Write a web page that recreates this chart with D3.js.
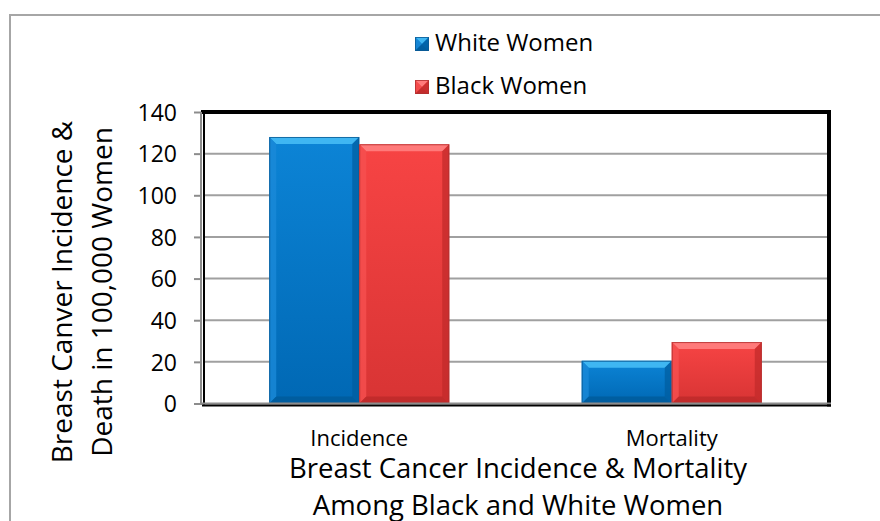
<!DOCTYPE html>
<html>
<head>
<meta charset="utf-8">
<script src="https://cdn.jsdelivr.net/npm/d3@7"></script>
<style>
  html, body { margin: 0; padding: 0; background: #fff; }
  svg { display: block; font-family: "Open Sans", Lato, sans-serif; }
</style>
</head>
<body>
<svg id="chart" width="880" height="521"></svg>
<script>
const categories = ["Incidence", "Mortality"];
const seriesNames = ["White Women", "Black Women"];
const whiteWomen = [128, 20.5];
const blackWomen = [124.5, 29.5];
const yTicks = [0, 20, 40, 60, 80, 100, 120, 140];
const yTitleLines = ["Breast Canver Incidence &", "Death in 100,000 Women"];
const xTitleLines = ["Breast Cancer Incidence & Mortality", "Among Black and White Women"];

const seriesValues = [whiteWomen, blackWomen];
const palette = [
  { main0: "#0c84d6", main1: "#0068b4", top: "#3fb6f2", left: "#1a8ad8", right: "#005c9e", bottom: "#005896", edge: "#0a5a94" },
  { main0: "#f74444", main1: "#d83434", top: "#ff7a7a", left: "#f65050", right: "#c02a2a", bottom: "#b82828", edge: "#b03030" }
];
const FONT = "'Open Sans', Lato, sans-serif";

const svg = d3.select("#chart");
const W = 880, H = 521;
const plot = { left: 203, right: 828, top: 112, bottom: 403.5 };

// outer chart border
svg.append("rect").attr("x", 10).attr("y", 15).attr("width", W + 10).attr("height", H + 10)
  .attr("fill", "#fff").attr("stroke", "#a6a6a6").attr("stroke-width", 2);

const y = d3.scaleLinear().domain([0, 140]).range([plot.bottom, plot.top]);
const x0 = d3.scaleBand().domain(categories).range([plot.left, plot.right]).paddingInner(0).paddingOuter(0);
const x1 = d3.scaleBand().domain(seriesNames).range([0, x0.bandwidth()]).paddingInner(0).paddingOuter(0.736);

// defs gradients
const defs = svg.append("defs");
palette.forEach((p, i) => {
  const g = defs.append("linearGradient").attr("id", "g" + i).attr("x1", 0).attr("y1", 0).attr("x2", 0).attr("y2", 1);
  g.append("stop").attr("offset", "0%").attr("stop-color", p.main0);
  g.append("stop").attr("offset", "100%").attr("stop-color", p.main1);
});

// gridlines
svg.append("g").selectAll("line").data(yTicks.filter(t => t > 0 && t < 140)).join("line")
  .attr("x1", plot.left).attr("x2", plot.right)
  .attr("y1", d => y(d)).attr("y2", d => y(d))
  .attr("stroke", "#a0a0a0").attr("stroke-width", 2);

// y axis ticks & labels
const yAxis = d3.axisLeft(y).tickValues(yTicks).tickSize(8).tickPadding(17).tickFormat(d3.format("d"));
const ya = svg.append("g").attr("transform", `translate(${plot.left - 1},0)`).call(yAxis);
ya.select(".domain").remove();
ya.selectAll(".tick line").attr("stroke", "#8c8c8c").attr("stroke-width", 2);
ya.selectAll(".tick text").attr("font-size", 23).attr("fill", "#000").attr("font-family", FONT).attr("dy", "0.36em");

function bevelBar(g, bx, by, bw, bh, p, gi) {
  const b = Math.min(7, bh / 2, bw / 2);
  g.append("rect").attr("x", bx).attr("y", by).attr("width", bw).attr("height", bh).attr("fill", `url(#g${gi})`);
  const poly = (pts, fill, op) => g.append("polygon").attr("points", pts.map(q => q.join(",")).join(" ")).attr("fill", fill).attr("opacity", op);
  poly([[bx, by], [bx + bw, by], [bx + bw - b, by + b], [bx + b, by + b]], p.top, 1);
  poly([[bx, by], [bx + b, by + b], [bx + b, by + bh - b], [bx, by + bh]], p.left, 0.8);
  poly([[bx + bw, by], [bx + bw - b, by + b], [bx + bw - b, by + bh - b], [bx + bw, by + bh]], p.right, 0.7);
  poly([[bx, by + bh], [bx + b, by + bh - b], [bx + bw - b, by + bh - b], [bx + bw, by + bh]], p.bottom, 0.7);
  g.append("rect").attr("x", bx + 0.5).attr("y", by + 0.5).attr("width", bw - 1).attr("height", bh - 1)
    .attr("fill", "none").attr("stroke", p.edge).attr("stroke-width", 1).attr("opacity", 0.8);
}

// bars
const barsG = svg.append("g");
categories.forEach((c, ci) => {
  seriesNames.forEach((s, si) => {
    const v = seriesValues[si][ci];
    const bx = x0(c) + x1(s);
    const by = y(v);
    bevelBar(barsG, bx, by, x1.bandwidth(), y(0) - by, palette[si], si);
  });
});

// plot frame: top and right thick black, left and bottom double line
svg.append("line").attr("x1", plot.left - 2).attr("x2", plot.right + 3).attr("y1", plot.top).attr("y2", plot.top)
  .attr("stroke", "#000").attr("stroke-width", 4);
svg.append("line").attr("x1", plot.right + 1).attr("x2", plot.right + 1).attr("y1", plot.top - 2).attr("y2", plot.bottom + 3)
  .attr("stroke", "#000").attr("stroke-width", 4);
svg.append("line").attr("x1", plot.left - 2).attr("x2", plot.left - 2).attr("y1", plot.top).attr("y2", plot.bottom + 1)
  .attr("stroke", "#8c8c8c").attr("stroke-width", 2);
svg.append("line").attr("x1", plot.left + 1).attr("x2", plot.left + 1).attr("y1", plot.top).attr("y2", plot.bottom + 1)
  .attr("stroke", "#000").attr("stroke-width", 2);
svg.append("line").attr("x1", plot.left - 3).attr("x2", plot.right + 3).attr("y1", plot.bottom).attr("y2", plot.bottom)
  .attr("stroke", "#8c8c8c").attr("stroke-width", 2);
svg.append("line").attr("x1", plot.left - 1).attr("x2", plot.right + 3).attr("y1", plot.bottom + 2).attr("y2", plot.bottom + 2)
  .attr("stroke", "#000").attr("stroke-width", 2);

// category labels
const xAxis = d3.axisBottom(x0).tickSize(0).tickPadding(0);
const xa = svg.append("g").attr("transform", `translate(0,${plot.bottom})`).call(xAxis);
xa.select(".domain").remove();
xa.selectAll(".tick text").attr("font-size", 22).attr("fill", "#000").attr("font-family", FONT)
  .attr("y", 42).attr("dy", 0);

// x title
svg.append("g").selectAll("text").data(xTitleLines).join("text")
  .attr("x", 518).attr("y", (d, i) => 478 + i * 37)
  .attr("text-anchor", "middle").attr("font-size", 27.5).attr("fill", "#000").text(d => d);

// y title
svg.append("g").selectAll("text").data(yTitleLines).join("text")
  .attr("transform", (d, i) => `translate(${72 + i * 40},292) rotate(-90)`)
  .attr("text-anchor", "middle").attr("font-size", 28).attr("fill", "#000").text(d => d);

// legend
const lg = svg.append("g");
seriesNames.forEach((s, i) => {
  const ly = 37 + i * 43;
  bevelBar(lg, 415, ly, 14, 14, palette[i], i);
  lg.append("text").attr("x", 435).attr("y", ly + 14).attr("font-size", 24).attr("fill", "#000").text(s);
});
</script>
</body>
</html>
